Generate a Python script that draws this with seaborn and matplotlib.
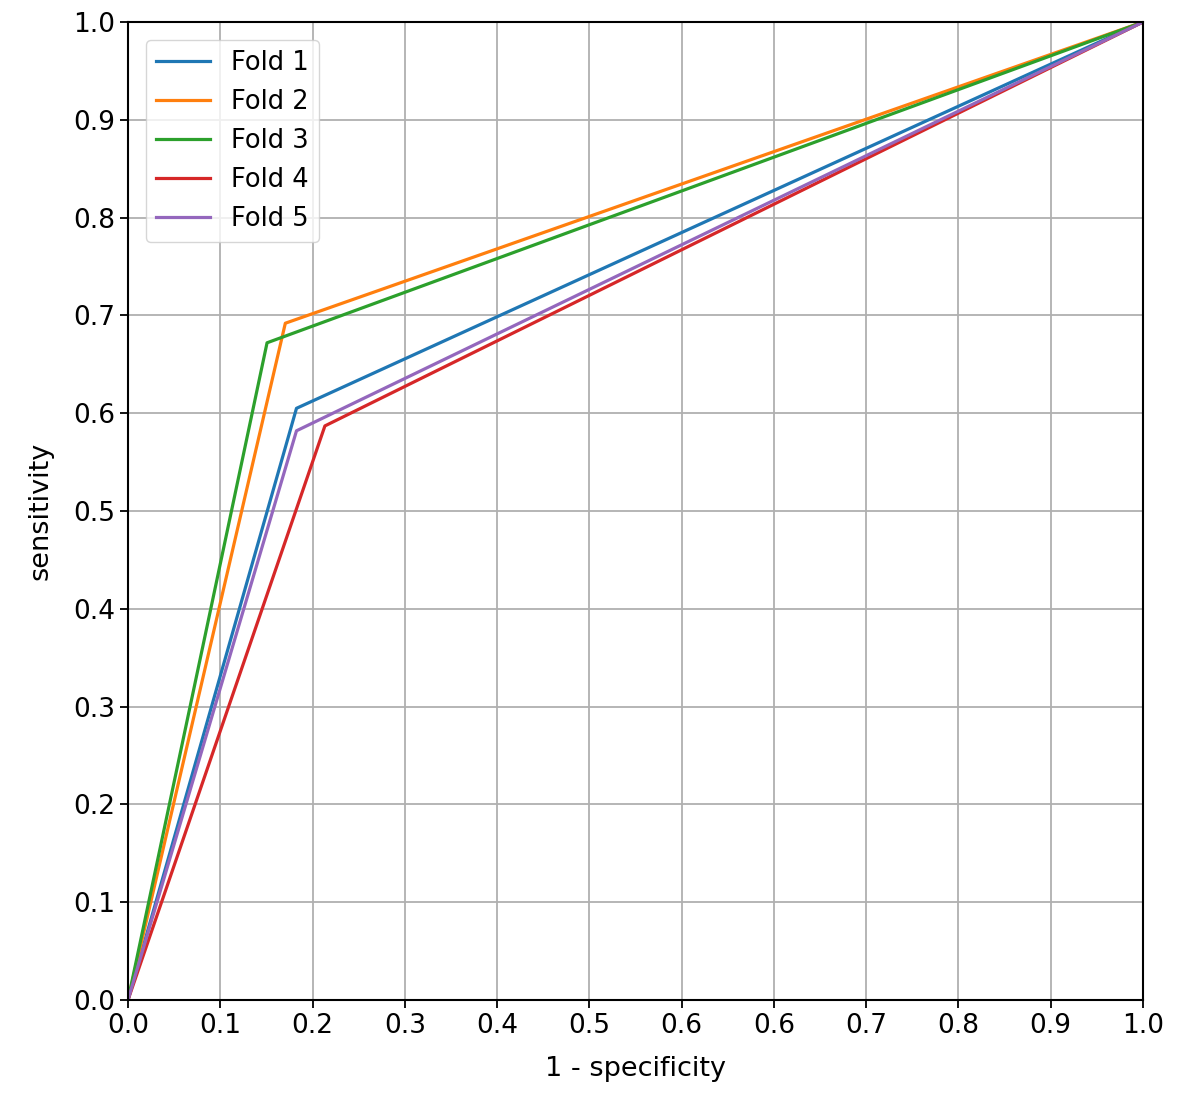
import numpy as np
import pandas as pd
import matplotlib
matplotlib.use("Agg")
import matplotlib.pyplot as plt
import seaborn as sns

# ROC points per fold (fpr, tpr)
fold_names = ["Fold 1", "Fold 2", "Fold 3", "Fold 4", "Fold 5"]
fpr_f1 = [0.0, 0.166, 1.0]
tpr_f1 = [0.0, 0.605, 1.0]
fpr_f2 = [0.0, 0.155, 1.0]
tpr_f2 = [0.0, 0.692, 1.0]
fpr_f3 = [0.0, 0.137, 1.0]
tpr_f3 = [0.0, 0.672, 1.0]
fpr_f4 = [0.0, 0.194, 1.0]
tpr_f4 = [0.0, 0.587, 1.0]
fpr_f5 = [0.0, 0.166, 1.0]
tpr_f5 = [0.0, 0.582, 1.0]

xtick_labels = ["0.0", "0.1", "0.2", "0.3", "0.4", "0.5", "0.6", "0.6", "0.7", "0.8", "0.9", "1.0"]

all_fpr = [fpr_f1, fpr_f2, fpr_f3, fpr_f4, fpr_f5]
all_tpr = [tpr_f1, tpr_f2, tpr_f3, tpr_f4, tpr_f5]
rows = []
for name, f, t in zip(fold_names, all_fpr, all_tpr):
    for i in range(len(f)):
        rows.append({"fold": name, "fpr": f[i], "tpr": t[i]})
roc_df = pd.DataFrame(rows)

plt.rcParams['font.family'] = ['DejaVu Sans']
fig = plt.figure(figsize=(11.79, 10.96), dpi=100)
ax = fig.add_axes([128 / 1179, 96 / 1096, 1015 / 1179, 978 / 1096])

sns.lineplot(data=roc_df, x="fpr", y="tpr", hue="fold", sort=False,
             palette="tab10", linewidth=2.3, ax=ax, estimator=None, units="fold")

ax.set_xlim(0, 1)
ax.set_ylim(0, 1)
ax.set_xticks(np.linspace(0, 1, 12))
ax.set_xticklabels(xtick_labels)
ax.set_yticks(np.linspace(0, 1, 11))
ax.set_yticklabels([f"{v:.1f}" for v in np.linspace(0, 1, 11)])
ax.tick_params(labelsize=19, length=6, width=1.3)
ax.grid(True, color="#b0b0b0", linewidth=1.3)
for sp in ax.spines.values():
    sp.set_linewidth(1.5)
ax.set_xlabel("1 - specificity", fontsize=19.5, labelpad=12)
ax.set_ylabel("sensitivity", fontsize=19.5, labelpad=14)
ax.legend(loc="upper left", fontsize=18.5, handlelength=2.1, borderaxespad=0.7, title=None)

fig.savefig("out.png", dpi=100)
